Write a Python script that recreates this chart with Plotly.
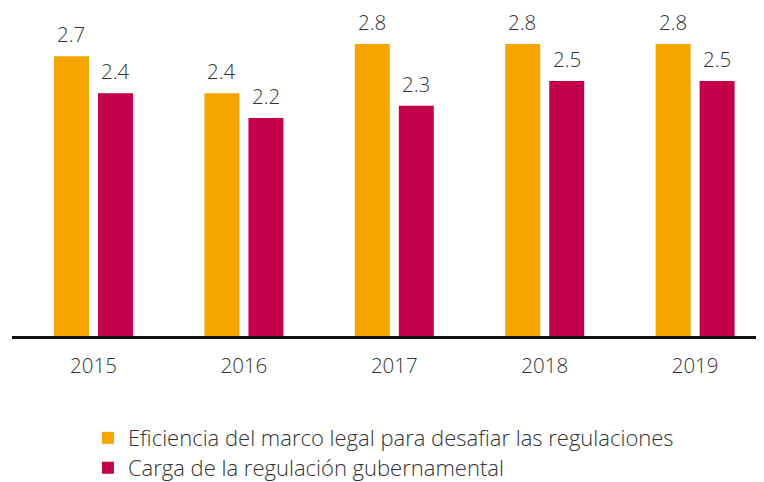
import plotly.graph_objects as go

years = ["2015", "2016", "2017", "2018", "2019"]
eficiencia = [2.7, 2.4, 2.8, 2.8, 2.8]
carga = [2.4, 2.2, 2.3, 2.5, 2.5]
series_names = [
    "Eficiencia del marco legal para desafiar las regulaciones",
    "Carga de la regulación gubernamental",
]
colors = ["#F5A500", "#C4004B"]

FONT = "Open Sans"
TXT = "#333333"

fig = go.Figure()
legends = ["legend", "legend2"]
for name, vals, col, lg in zip(series_names, [eficiencia, carga], colors, legends):
    fig.add_trace(go.Bar(
        x=years, y=vals, name=name, marker=dict(color=col, line=dict(width=0)),
        offsetgroup=name, legend=lg,
    ))

# value labels via annotations positioned at data coords
offsets = [-0.148, 0.146]
for k, vals in enumerate([eficiencia, carga]):
    for i, v in enumerate(vals):
        fig.add_annotation(
            x=i + offsets[k], y=v, xref="x", yref="y",
            text=f"{v:.1f}", showarrow=False, yshift=22,
            font=dict(family=FONT, size=20.5, color=TXT, weight=300),
        )

leg_common = dict(
    x=0.101, xanchor="left", yanchor="middle",
    font=dict(family=FONT, size=22, color=TXT, weight=300),
    itemclick=False, bgcolor="rgba(0,0,0,0)",
)

fig.update_layout(
    width=756, height=474,
    margin=dict(l=4, r=0, t=0, b=146, autoexpand=False),
    paper_bgcolor="white", plot_bgcolor="white",
    barmode="group", bargap=0.415, bargroupgap=0.205,
    font=dict(family=FONT, size=20, color=TXT, weight=300),
    showlegend=True,
    legend=dict(y=-0.311, **leg_common),
    legend2=dict(y=-0.402, **leg_common),
    xaxis=dict(
        type="category", range=[-0.542, 4.458], automargin=False,
        showline=True, linecolor="#111111", linewidth=2.5,
        showgrid=False, ticks="", ticklabelstandoff=10,
        tickfont=dict(family=FONT, size=20.5, color=TXT, weight=300),
    ),
    yaxis=dict(
        range=[0.432, 3.092], visible=False, showgrid=False, zeroline=False,
        automargin=False,
    ),
)

fig.write_html("out.html")
